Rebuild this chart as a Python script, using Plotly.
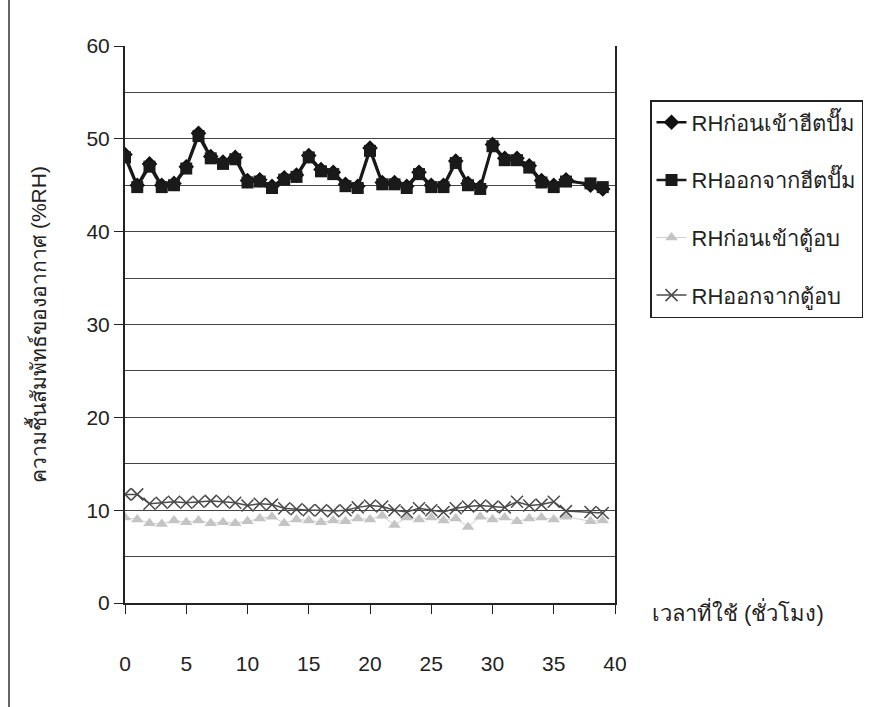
import plotly.graph_objects as go

hours = [0, 1, 2, 3, 4, 5, 6, 7, 8, 9, 10, 11, 12, 13, 14, 15, 16, 17, 18, 19,
         20, 21, 22, 23, 24, 25, 26, 27, 28, 29, 30, 31, 32, 33, 34, 35, 36, 38, 39]

rh_in_hp = [48.3, 45.0, 47.3, 45.0, 45.2, 47.0, 50.6, 48.1, 47.5, 48.0, 45.5, 45.6, 44.9,
            45.8, 46.1, 48.2, 46.7, 46.4, 45.1, 44.9, 49.0, 45.3, 45.3, 44.9, 46.4, 45.0,
            45.0, 47.6, 45.2, 44.8, 49.4, 47.9, 47.9, 47.1, 45.5, 45.0, 45.6, 45.0, 44.6]
rh_out_hp = [48.0, 44.8, 47.0, 44.8, 45.0, 46.8, 50.3, 47.9, 47.3, 47.8, 45.3, 45.4, 44.7,
             45.6, 45.9, 48.0, 46.5, 46.2, 44.9, 44.7, 48.7, 45.1, 45.1, 44.7, 46.2, 44.8,
             44.8, 47.4, 45.0, 44.6, 49.2, 47.7, 47.7, 46.9, 45.3, 44.8, 45.4, 45.2, 44.8]
rh_in_cab = [9.2, 9.0, 8.6, 8.5, 8.9, 8.7, 8.9, 8.6, 8.7, 8.6, 8.8, 9.1, 9.3, 8.6, 9.0,
             8.9, 8.7, 8.9, 8.8, 9.1, 9.0, 9.4, 8.4, 9.2, 9.0, 9.2, 8.9, 9.1, 8.2, 9.3,
             9.0, 9.2, 8.8, 9.1, 9.2, 9.0, 9.3, 8.8, 8.9]
rh_out_cab = [11.7, 11.7, 10.7, 10.8, 10.9, 10.8, 10.9, 11.0, 10.9, 10.8, 10.5, 10.7, 10.6,
              10.2, 10.1, 10.0, 10.0, 9.9, 10.0, 10.3, 10.5, 10.4, 10.0, 9.8, 10.2, 10.0,
              9.8, 10.2, 10.4, 10.5, 10.4, 10.3, 10.9, 10.5, 10.6, 10.9, 9.9, 9.8, 9.7]

names = ["RHก่อนเข้าฮีตปั๊ม", "RHออกจากฮีตปั๊ม", "RHก่อนเข้าตู้อบ", "RHออกจากตู้อบ"]
x_ticks = [0, 5, 10, 15, 20, 25, 30, 35, 40]
y_ticks = [0, 10, 20, 30, 40, 50, 60]

FONT = "Liberation Sans, Arial, sans-serif"

fig = go.Figure()
fig.add_trace(go.Scatter(x=hours, y=rh_in_hp, name=names[0], mode="lines+markers",
                         line=dict(color="#111111", width=2.5),
                         marker=dict(symbol="diamond", size=12, color="#111111"),
                         legendgroup="a"))
fig.add_trace(go.Scatter(x=hours, y=rh_out_hp, name=names[1], mode="lines+markers",
                         line=dict(color="#1a1a1a", width=2.5),
                         marker=dict(symbol="square", size=12, color="#1a1a1a"),
                         legendgroup="b"))
fig.add_trace(go.Scatter(x=hours, y=rh_in_cab, name=names[2], mode="lines+markers",
                         line=dict(color="#cfcfcf", width=1),
                         marker=dict(symbol="triangle-up", size=11, color="#c4c4c4"),
                         legendgroup="c"))
fig.add_trace(go.Scatter(x=hours, y=rh_out_cab, name=names[3], mode="lines+markers",
                         line=dict(color="#4a4a4a", width=1.5),
                         marker=dict(symbol="x-thin", size=12, color="#4a4a4a",
                                     line=dict(color="#4a4a4a", width=1.5)),
                         legendgroup="d"))

fig.update_layout(
    width=883, height=707,
    margin=dict(l=125, r=268, t=46, b=104),
    paper_bgcolor="white", plot_bgcolor="white",
    font=dict(family=FONT, size=21, color="#222222"),
    showlegend=True,
    legend=dict(x=(650 - 125) / 490, y=(603 - 100) / 557, xanchor="left", yanchor="top",
                bordercolor="#222222", borderwidth=1.5, bgcolor="white",
                font=dict(size=22), tracegroupgap=26),
    xaxis=dict(range=[0, 40], tickvals=x_ticks, showgrid=False, zeroline=False,
               showline=True, linecolor="#222222", linewidth=2,
               ticks="outside", ticklen=9, tickcolor="#222222",
               ticklabelstandoff=32, tickfont=dict(size=21)),
    yaxis=dict(range=[0, 60], tickvals=y_ticks, showgrid=True, gridcolor="#444444",
               gridwidth=1, zeroline=False, showline=True, linecolor="#222222",
               linewidth=2, mirror=True, ticks="outside", ticklen=9, tickcolor="#222222",
               minor=dict(dtick=5, showgrid=True, gridcolor="#444444", gridwidth=1),
               title=dict(text="ความชื้นสัมพัทธ์ของอากาศ (%RH)", standoff=34,
                          font=dict(size=21)),
               tickfont=dict(size=21)),
    annotations=[dict(text="เวลาที่ใช้ (ชั่วโมง)", xref="paper", yref="paper",
                      x=(650 - 125) / 490, y=-0.016, xanchor="left", yanchor="middle",
                      showarrow=False, font=dict(size=22))],
    shapes=[dict(type="line", xref="paper", yref="paper",
                 x0=-116 / 490, x1=-116 / 490, y0=-104 / 557, y1=1 + 46 / 557,
                 line=dict(color="#333333", width=1.5))],
)

fig.write_html("out.html")
